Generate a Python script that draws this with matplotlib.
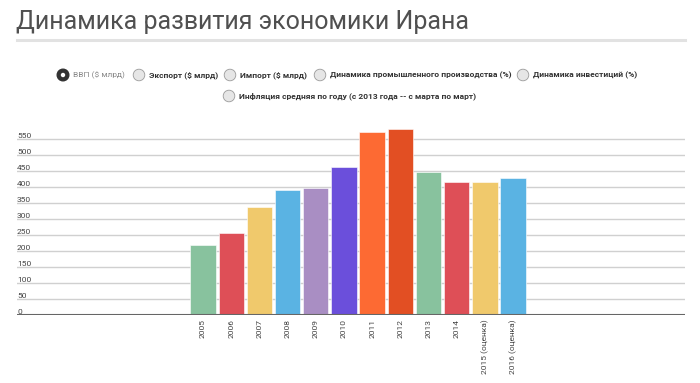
import numpy as np
import matplotlib.pyplot as plt
from matplotlib.patches import Circle

plt.rcParams['font.family'] = ['Roboto', 'DejaVu Sans']

years = ['2005', '2006', '2007', '2008', '2009', '2010', '2011', '2012',
         '2013', '2014', '2015 (оценка)', '2016 (оценка)']
gdp = [218, 258, 337, 390, 398, 464, 574, 581, 447, 416, 415, 428]
colors = ['#88c29e', '#de4f57', '#f0c96c', '#5ab3e3', '#a98ec3', '#6b4fdb',
          '#fd6a33', '#e24f23', '#88c29e', '#de4f57', '#f0c96c', '#5ab3e3']
yticks = list(range(0, 551, 50))

legend_row1 = ['ВВП ($ млрд)', 'Экспорт ($ млрд)', 'Импорт ($ млрд)',
               'Динамика промышленного производства (%)', 'Динамика инвестиций (%)']
legend_row2 = ['Инфляция средняя по году (с 2013 года -- с марта по март)']

W, H = 700, 383
fig = plt.figure(figsize=(W / 100, H / 100), dpi=100)
fig.patch.set_facecolor('white')

# plot area in pixels: x 17..685, baseline y=315
ax = fig.add_axes([17 / W, (H - 315) / H, (685 - 17) / W, 191.7 / H])
x = np.arange(len(years))
ax.bar(x, gdp, width=0.9, color=colors, edgecolor='white', linewidth=0.4, zorder=3)
ax.set_xlim(-6.6, 17.1)
ax.set_ylim(0, 600)

ax.set_yticks(yticks)
ax.set_yticklabels([str(v) for v in yticks])
ax.tick_params(axis='y', length=0, pad=0, labelsize=6, labelcolor='#444444')
for lbl in ax.get_yticklabels():
    lbl.set_ha('left')
    lbl.set_va('bottom')
ax.grid(axis='y', color='#d0d0d0', linewidth=1, zorder=0)
ax.axhline(0, color='#666666', linewidth=1.5, zorder=4)

ax.set_xticks(x)
ax.set_xticklabels(years, rotation=90, fontsize=6, color='#444444')
ax.tick_params(axis='x', length=0, pad=3)

for s in ax.spines.values():
    s.set_visible(False)

# title and its underline
fig.text(16 / W, 1 - 29 / H, 'Динамика развития экономики Ирана', fontsize=18,
         color='#505050', va='baseline', ha='left')
fig.add_artist(plt.Line2D([17 / W, 685 / W], [1 - 40 / H, 1 - 40 / H],
                          color='#e2e2e2', linewidth=2.2))

# radio-button legend
def radio(px, py, label, selected=False):
    cx, cy = px / 100, (H - py) / 100
    if selected:
        fig.add_artist(Circle((cx, cy), 0.058, transform=fig.dpi_scale_trans,
                              facecolor='#333333', edgecolor='#333333'))
        fig.add_artist(Circle((cx, cy), 0.022, transform=fig.dpi_scale_trans,
                              facecolor='white', edgecolor='none'))
        fig.text((px + 10) / W, 1 - py / H, label, fontsize=6, color='#888888',
                 va='center', ha='left')
    else:
        fig.add_artist(Circle((cx, cy), 0.058, transform=fig.dpi_scale_trans,
                              facecolor='#e6e6e6', edgecolor='#9a9a9a', linewidth=0.6))
        fig.text((px + 10) / W, 1 - py / H, label, fontsize=6, color='#333333',
                 fontweight='bold', va='center', ha='left')

row1_x = [63, 139, 230, 320, 523]
for i, (px, lab) in enumerate(zip(row1_x, legend_row1)):
    radio(px, 75, lab, selected=(i == 0))
radio(229, 96, legend_row2[0])

fig.savefig('out.png', dpi=100)
